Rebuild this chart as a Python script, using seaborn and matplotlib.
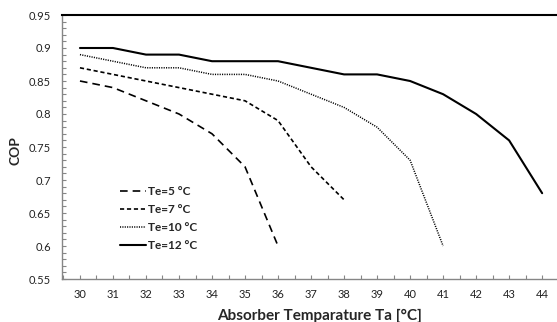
import matplotlib
matplotlib.use("Agg")
import matplotlib.pyplot as plt
import seaborn as sns
from matplotlib.ticker import MultipleLocator

# Absorber temperature (deg C) for each evaporator temperature series
ta_5 = [30, 31, 32, 33, 34, 35, 36]
cop_5 = [0.85, 0.84, 0.82, 0.80, 0.77, 0.72, 0.60]

ta_7 = [30, 31, 32, 33, 34, 35, 36, 37, 38]
cop_7 = [0.87, 0.86, 0.85, 0.84, 0.83, 0.82, 0.79, 0.72, 0.67]

ta_10 = [30, 31, 32, 33, 34, 35, 36, 37, 38, 39, 40, 41]
cop_10 = [0.89, 0.88, 0.87, 0.87, 0.86, 0.86, 0.85, 0.83, 0.81, 0.78, 0.73, 0.60]

ta_12 = [30, 31, 32, 33, 34, 35, 36, 37, 38, 39, 40, 41, 42, 43, 44]
cop_12 = [0.90, 0.90, 0.89, 0.89, 0.88, 0.88, 0.88, 0.87, 0.86, 0.86, 0.85, 0.83, 0.80, 0.76, 0.68]

x_ticks = list(range(30, 45))

sns.set_theme(style="white")
plt.rcParams["font.family"] = ["Lato", "DejaVu Sans"]
plt.rcParams["lines.scale_dashes"] = False

fig = plt.figure(figsize=(5.57, 3.22), dpi=100)
W, H = 557, 322
ax = fig.add_axes([62 / W, 1 - 279 / H, (557 - 62) / W, (279 - 15) / H])

sns.lineplot(x=ta_5, y=cop_5, ax=ax, color="black", lw=1.2,
             linestyle=(0, (5.5, 3.6)), label="Te=5 °C")
sns.lineplot(x=ta_7, y=cop_7, ax=ax, color="black", lw=1.2,
             linestyle=(0, (3.0, 2.0)), label="Te=7 °C")
sns.lineplot(x=ta_10, y=cop_10, ax=ax, color="black", lw=1.1,
             linestyle=(0, (0.8, 0.9)), label="Te=10 °C")
sns.lineplot(x=ta_12, y=cop_12, ax=ax, color="black", lw=1.5,
             linestyle="-", label="Te=12 °C")

ax.set_xlim(29.456, 44.45)
ax.set_ylim(0.55, 0.95)
ax.set_xticks(x_ticks)
ax.set_xticklabels([str(t) for t in x_ticks])
ax.xaxis.set_minor_locator(MultipleLocator(0.5))
ax.yaxis.set_major_locator(MultipleLocator(0.05))
ax.yaxis.set_minor_locator(MultipleLocator(0.01))
ax.set_yticklabels([f"{v:g}" for v in ax.get_yticks()])

grey = "#868686"
ax.tick_params(axis="both", which="both", direction="in", length=3,
               width=0.8, color=grey, labelsize=8, labelcolor="#222222")
ax.tick_params(axis="x", which="both", pad=7, bottom=True)
ax.tick_params(axis="y", which="both", pad=8, left=True)

for side in ["left", "bottom"]:
    ax.spines[side].set_color(grey)
    ax.spines[side].set_linewidth(1.0)
ax.spines["top"].set_color("black")
ax.spines["top"].set_linewidth(1.5)
ax.spines["right"].set_visible(False)

ax.set_xlabel("Absorber Temparature Ta [°C]", fontsize=11, fontweight="bold")
ax.set_ylabel("COP", fontsize=10, fontweight="bold")
ax.xaxis.set_label_coords((320 - 62) / (557 - 62), -(316 - 279) / (279 - 15))
ax.yaxis.set_label_coords(-(62 - 16) / (557 - 62), (279 - 151) / (279 - 15))
ax.xaxis.label.set_va("center")
ax.yaxis.label.set_va("center")

leg = ax.legend(loc="upper left", bbox_to_anchor=((120 - 62) / 495, (279 - 186) / 264),
                frameon=False, handlelength=2.2, handletextpad=0.2,
                labelspacing=0.6, borderaxespad=0, borderpad=0,
                prop={"weight": "bold", "size": 8.5})

fig.savefig("out.png", dpi=100)
